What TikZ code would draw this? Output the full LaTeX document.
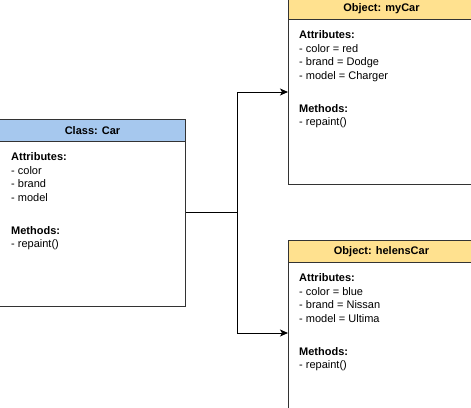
\documentclass[tikz,border=0pt]{standalone}
\usepackage{fontspec}
\setmainfont{Liberation Sans}
\usetikzlibrary{arrows.meta}
\definecolor{hblue}{HTML}{A6C8EE}
\definecolor{hyellow}{HTML}{FFE18F}
\definecolor{bord}{HTML}{333333}
\tikzset{
  box/.style={draw=bord, line width=1pt, fill=white, anchor=north west, minimum width=186pt, minimum height=187pt, inner sep=0pt},
  head/.style={draw=bord, line width=1pt, anchor=north west, minimum width=186pt, minimum height=22pt, inner sep=0pt, font=\fontsize{11}{13.5}\selectfont\bfseries},
  body/.style={anchor=north west, inner sep=0pt, align=left, font=\fontsize{11}{13.5}\selectfont},
  conn/.style={draw=black, line width=1pt},
  arr/.style={conn, -{Stealth[length=8pt,width=7pt,inset=2pt]}},
}
\begin{document}
\begin{tikzpicture}[x=1pt,y=-1pt]
\useasboundingbox (0,0) rectangle (471,407);
\clip (0,0) rectangle (471,407);
% Class: Car
\node[box] (car) at (-1,119) {};
\node[head, fill=hblue] (carh) at (-1,119) {Class: Car};
\node[body] (carb) at (11,152.5) {\textbf{Attributes:}\\- color\\- brand\\- model\\[19.5pt]\textbf{Methods:}\\- repaint()};
% Object: myCar
\node[box] (my) at (288,-3) {};
\node[head, fill=hyellow] (myh) at (288,-3) {Object: myCar};
\node[body] (myb) at (299,30.5) {\textbf{Attributes:}\\- color = red\\- brand = Dodge\\- model = Charger\\[19.5pt]\textbf{Methods:}\\- repaint()};
% Object: helensCar
\node[box] (hel) at (288,240) {};
\node[head, fill=hyellow] (helh) at (288,240) {Object: helensCar};
\node[body] (helb) at (299,273.5) {\textbf{Attributes:}\\- color = blue\\- brand = Nissan\\- model = Ultima\\[19.5pt]\textbf{Methods:}\\- repaint()};
% connectors
\coordinate (j) at (237,212);
\coordinate (myin) at (288,92);
\coordinate (helin) at (288,333);
\draw[conn] (car.east |- 0,212) -- (j);
\draw[arr] (j) |- (myin);
\draw[arr] (j) |- (helin);
\end{tikzpicture}
\end{document}
